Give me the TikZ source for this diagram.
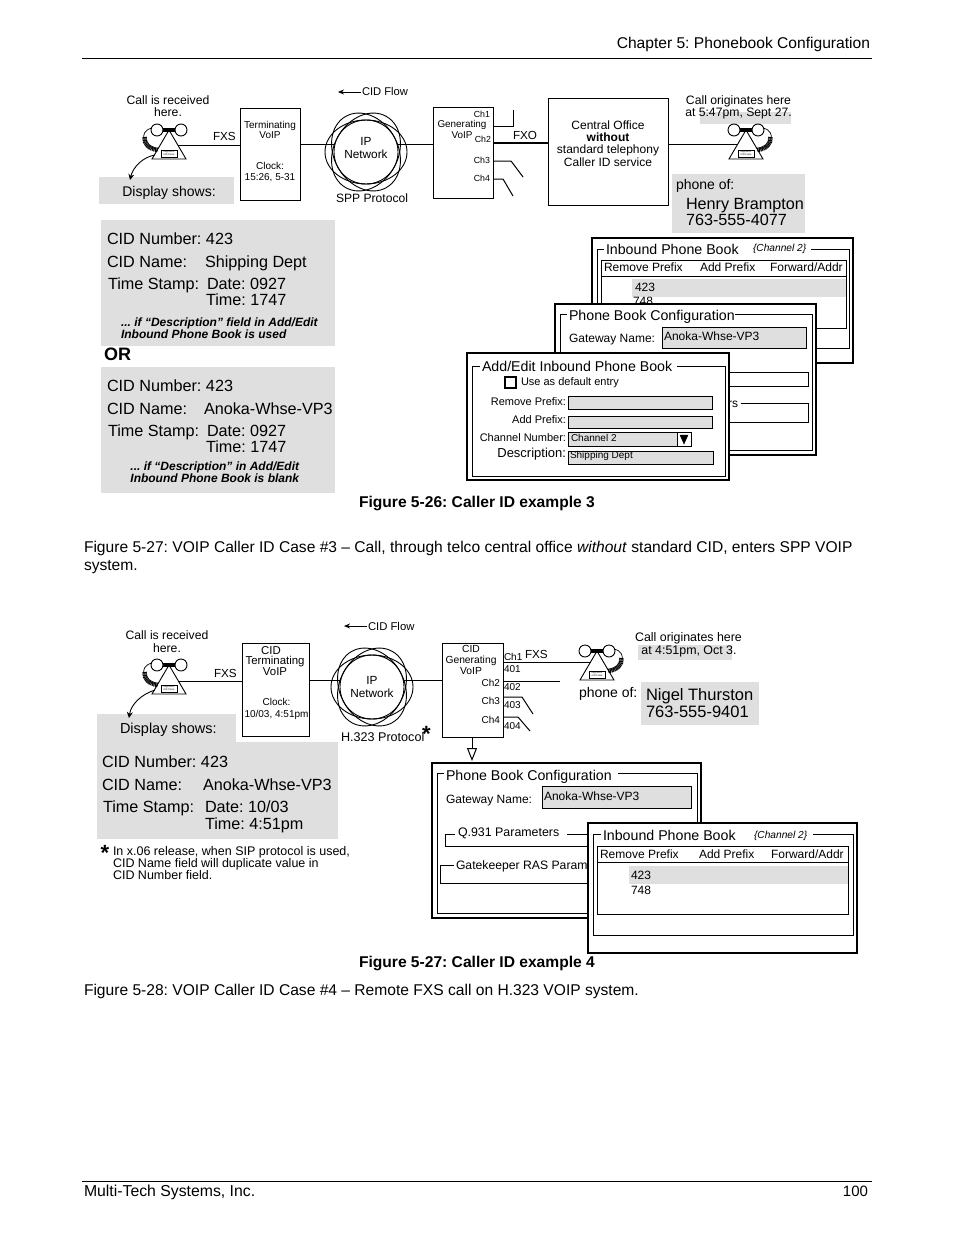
\documentclass[tikz,border=0pt]{standalone}
\usepackage{fontspec}
\setmainfont{Liberation Sans}
\usetikzlibrary{arrows.meta}
\definecolor{panel}{HTML}{DFDFDF}
\frenchspacing
\tikzset{
  txt/.style={inner sep=0pt,outer sep=0pt},
  boxn/.style={draw=black,line width=1pt,inner sep=0pt,fill=white},
  win/.style={boxn,line width=2pt},
  grey/.style={fill=panel,inner sep=0pt},
  field/.style={draw=black,line width=.8pt,fill=panel,inner sep=0pt},
  link/.style={line width=1pt,line join=miter},
  frameline/.style={line width=.8pt},
  flow/.style={line width=.9pt,-{Stealth[length=6pt,width=5pt]}},
  cloudn/.style={circle,draw=black,line width=.9pt,minimum size=64pt,inner sep=0pt},
}
\newcommand\TL[6][]{\node[txt,anchor=base west,font=\fontsize{#5}{#5}\selectfont,#1] (#2) at (#3,#4) {#6};}
\newcommand\TC[6][]{\node[txt,anchor=base,font=\fontsize{#5}{#5}\selectfont,#1] (#2) at (#3,#4) {#6};}
\newcommand\TR[6][]{\node[txt,anchor=base east,font=\fontsize{#5}{#5}\selectfont,#1] (#2) at (#3,#4) {#6};}
\newcommand\ML[7][]{\node[txt,align=center,font=\fontsize{#5}{#6}\selectfont,#1] (#2) at (#3,#4) {#7};}
\newcommand\Rect[6]{\node[#1,minimum width={(#5-#3)*1pt},minimum height={(#6-#4)*1pt}] (#2) at ({(#3+#5)/2},{(#4+#6)/2}) {};}
\newcommand\phone[5]{%
  \coordinate (#1) at (#2,#3);
  \begin{scope}[shift={(#2,#3)},xscale=#4]
    \draw[line width=.9pt,fill=white] (0,0) -- (-17,29) -- (17,29) -- cycle;
    \draw[line width=.9pt,fill=white] (-12,0) circle[radius=6];
    \draw[line width=.9pt,fill=white] (12,0) circle[radius=6];
    \draw[line width=3.5pt] (-6,0) -- (6,0);
    \draw[line width=.7pt] (-17,-2) .. controls (-25,0) and (-26,5) .. (-25,9);
    \draw[line width=4.5pt,dash pattern=on 1pt off .5pt] (-24.5,7) .. controls (-25,14) and (-20,19) .. (-11,20);
    \node[draw=black,line width=.5pt,fill=white,inner sep=0pt,minimum width=16pt,minimum height=7.5pt,align=center,font=\fontsize{2.4}{2.8}\selectfont] (#1key) at (0,23.5) {Keypad or\\CID Pulse};
    \coordinate (#1port) at ({17*#5/29},#5);
    \coordinate (#1cord) at (-14,25);
  \end{scope}}
\newcommand\cloud[3]{%
  \node[cloudn] (#1) at (#2,#3) {};
  \foreach \a in {0,60,120}
    \draw[line width=.9pt] (#1.center) circle[x radius=41,y radius=32,rotate=\a];}
\begin{document}
\begin{tikzpicture}[x=1pt,y=-1pt]
\useasboundingbox[fill=white] (0,0) rectangle (954,1235);

% page furniture
\TR{header}{870}{48}{15.6}{Chapter 5: Phonebook Configuration}
\coordinate (hrA) at (82,58); \coordinate (hrB) at (872,58);
\draw[line width=.8pt] (hrA) -- (hrB);
\coordinate (frA) at (82,1181); \coordinate (frB) at (872,1181);
\draw[line width=.8pt] (frA) -- (frB);
\TL{footl}{84}{1196}{15.8}{Multi-Tech Systems, Inc.}
\TR{footr}{868}{1196}{15}{100}

%%%%% Figure 5-26
\Rect{grey}{disp1}{99}{177}{234}{204}
\TC{disp1t}{169}{196}{14}{Display shows:}
\ML{recv1}{168}{106}{12.2}{12.5}{Call is received\\here.}
\phone{ph1}{169}{130}{1}{15}
\coordinate (disp1tip) at (130,180);
\draw[line width=.9pt,-{Stealth[length=6pt,width=6pt]}] (ph1cord) .. controls (143,157) and (133,167) .. (disp1tip);
\TL{fxs1}{213}{140}{11.7}{FXS}
\Rect{boxn}{term1}{240}{108}{300}{200}
\ML{term1a}{270}{130}{10}{10.5}{Terminating\\VoIP}
\ML{term1b}{270}{172}{10}{11.5}{Clock:\\15:26, 5-31}
\cloud{ip1}{366}{152}
\ML{ip1t}{366}{148}{11.8}{13}{IP\\Network}
\TL{flow1t}{362}{95}{11.2}{CID Flow}
\coordinate (flow1a) at (361,92); \coordinate (flow1b) at (338,92);
\draw[flow] (flow1a) -- (flow1b);
\TC{spp}{372}{202}{12.1}{SPP Protocol}
\coordinate (ya) at (0,144);
\draw[link] (ph1port) -- (ph1port -| term1.west);
\draw[link] (term1.east |- ya) -- (ip1.west |- ya);
\Rect{boxn}{gen1}{433}{107}{493}{198}
\draw[link] (ip1.east |- ya) -- (gen1.west |- ya);
\ML{gen1t}{462}{129}{9.9}{11}{Generating\\VoIP}
\TR{ch11}{490}{117}{8.8}{Ch1}
\TR{ch12}{491}{142}{8.8}{Ch2}
\TR{ch13}{490}{163}{8.8}{Ch3}
\TR{ch14}{490}{181}{8.8}{Ch4}
\coordinate (c1a) at (493,126); \coordinate (c1b) at (513,110);
\draw[link] (c1a) -| (c1b);
\coordinate (c3a) at (493,161); \coordinate (c3b) at (511,161); \coordinate (c3c) at (523,177);
\draw[link] (c3a) -- (c3b) -- (c3c);
\coordinate (c4a) at (493,179); \coordinate (c4b) at (503,179); \coordinate (c4c) at (513,196);
\draw[link] (c4a) -- (c4b) -- (c4c);
\TL{fxo}{513}{139}{11.7}{FXO}
\Rect{boxn}{co}{548}{98}{668}{205}
\ML{cot}{608}{143.5}{12}{12.3}{Central Office\\\textbf{without}\\standard telephony\\Caller ID service}
\coordinate (yb) at (0,143);
\draw[link,line width=1.2pt] (gen1.east |- yb) -- (co.west |- yb);
\Rect{grey}{time1}{700}{112}{791}{124}
\ML{orig1}{738.5}{107}{12.2}{12.3}{Call originates here\\at 5:47pm, Sept 27.}
\phone{ph2}{746}{130}{-1}{14}
\draw[link] (co.east |- ph2port) -- (ph2port);
\Rect{grey}{who1}{672}{174}{805}{233}
\TL{phof1}{676}{189}{14}{phone of:}
\ML[align=left,anchor=west]{who1t}{686}{212}{16.2}{17}{Henry Brampton\\763-555-4077}

% CID panels
\Rect{grey}{pan1}{101}{220}{335}{346}
\TL{p1a}{107}{244.5}{16.2}{CID Number: 423}
\TL{p1b}{107}{267}{16.2}{CID Name:}
\TL{p1c}{205}{267}{16.2}{Shipping Dept}
\TL{p1d}{108}{289}{16.2}{Time Stamp:}
\TL{p1e}{207}{289}{16.2}{Date: 0927}
\TL{p1f}{206}{305}{16.2}{Time: 1747}
\ML[align=left,anchor=west]{p1g}{121}{328.5}{12}{12}{\textbf{\textit{... if “Description” field in Add/Edit}}\\\textbf{\textit{Inbound Phone Book is used}}}
\TL{ort}{104}{360}{18}{\textbf{OR}}
\Rect{grey}{pan2}{101}{367}{335}{493}
\TL{p2a}{107}{391.5}{16.2}{CID Number: 423}
\TL{p2b}{107}{414}{16.2}{CID Name:}
\TL{p2c}{204}{414}{16.2}{Anoka-Whse-VP3}
\TL{p2d}{108}{436}{16.2}{Time Stamp:}
\TL{p2e}{207}{436}{16.2}{Date: 0927}
\TL{p2f}{206}{452}{16.2}{Time: 1747}
\ML{p2g}{215}{472.5}{12}{12}{\textbf{\textit{... if “Description” in Add/Edit}}\\\textbf{\textit{Inbound Phone Book is blank}}}

% Inbound window
\Rect{win}{ib1}{592}{238}{853}{363}
\draw[frameline] (604,249) -| (597,348) -| (849,249) -- (811,249);
\TL{ib1t}{606}{254}{14.2}{Inbound Phone Book}
\TL{ib1c}{753}{251}{10.2}{\textit{\{Channel 2\}}}
\Rect{boxn}{ib1tab}{601}{260}{846}{328}
\draw[link] (601,276) -- (846,276);
\Rect{grey}{ib1row}{632}{279}{846}{297}
\TL{ib1h1}{604}{271}{12}{Remove Prefix}
\TL{ib1h2}{700}{271}{12}{Add Prefix}
\TL{ib1h3}{770}{271}{12}{Forward/Addr}
\TL{ib1r1}{635}{291}{12}{423}
\TL{ib1r2}{633}{305}{12}{748}

% Configuration window
\Rect{win}{cfg1}{555}{304}{816}{455}
\draw[frameline] (567,314) -| (560,450) -| (812,314) -- (735,314);
\TL{cfg1t}{569}{320}{14.2}{Phone Book Configuration}
\TL{cfg1g}{569}{342}{12}{Gateway Name:}
\Rect{field}{cfg1f}{662}{327}{806}{348}
\TL{cfg1v}{664}{340}{12}{Anoka-Whse-VP3}
\draw[frameline] (700,372) -| (808,386) -- (700,386);
\draw[frameline] (741,403) -| (808,422) -- (700,422);
\TL{cfg1r}{728}{407}{12}{rs}

% Add/Edit window
\Rect{win}{ed}{467}{353}{729}{480}
\draw[frameline] (480,366) -| (472,476) -| (725,366) -- (677,366);
\TL{edt}{482}{371}{14.2}{Add/Edit Inbound Phone Book}
\Rect{boxn,line width=1.6pt}{edck}{505}{377}{516}{388}
\TL{edu}{521}{385}{11}{Use as default entry}
\TR{edl1}{566}{405}{11}{Remove Prefix:}
\TR{edl2}{566}{423}{11}{Add Prefix:}
\TR{edl3}{566}{441}{11}{Channel Number:}
\TR{edl4}{566}{457}{13}{Description:}
\Rect{field}{edf1}{568}{396}{712}{409}
\Rect{field}{edf2}{568}{416}{712}{428}
\Rect{field}{edf3}{568}{432}{677}{446}
\Rect{boxn,line width=.8pt}{edf3b}{677}{432}{691}{446}
\draw[fill=black] (680,435) -- (688,435) -- (684,444) -- cycle;
\Rect{field}{edf4}{568}{451}{713}{464}
\TL{edv3}{571}{441}{10}{Channel 2}
\TL{edv4}{570}{458}{10}{Shipping Dept}

\TL{cap1}{359}{507}{15.6}{\textbf{Figure 5-26: Caller ID example 3}}
\TL{body1}{84}{552}{15.6}{Figure 5-27: VOIP Caller ID Case \#3 – Call, through telco central office \textit{without} standard CID, enters SPP VOIP}
\TL{body1b}{84}{570}{15.6}{system.}

%%%%% Figure 5-27
\Rect{grey}{disp2}{97}{714}{236}{745}
\Rect{grey}{pan3}{97}{742}{338}{839}
\TL{disp2t}{120}{733}{14.5}{Display shows:}
\ML{recv2}{167}{642}{12.2}{13}{Call is received\\here.}
\phone{ph3}{169}{665}{1}{16}
\coordinate (disp2tip) at (129,718);
\draw[line width=.9pt,-{Stealth[length=6pt,width=6pt]}] (ph3cord) .. controls (142,694) and (131,704) .. (disp2tip);
\TL{fxs2}{214}{677}{11.7}{FXS}
\Rect{boxn}{term2}{242}{643}{309}{736}
\ML{term2a}{275}{661}{11.4}{10.7}{\hspace*{-8pt}CID\\Terminating\\VoIP}
\ML{term2b}{276.5}{709}{10}{12}{Clock:\\10/03, 4:51pm}
\draw[link] (ph3port) -- (ph3port -| term2.west);
\cloud{ip2}{372}{687}
\ML{ip2t}{372}{687}{11.8}{13}{IP\\Network}
\coordinate (yc) at (0,680);
\draw[link] (term2.east |- yc) -- (ip2.west |- yc);
\TL{flow2t}{368}{630}{11.3}{CID Flow}
\coordinate (flow2a) at (367,626); \coordinate (flow2b) at (344,626);
\draw[flow] (flow2a) -- (flow2b);
\TL{h323}{341}{741}{12.6}{H.323 Protocol}
\TC{star1}{426.5}{741.5}{22}{\textbf{*}}
\Rect{boxn}{gen2}{442}{643}{503}{737}
\draw[link] (ip2.east |- yc) -- (gen2.west |- yc);
\ML{gen2t}{471}{660}{10.3}{10.7}{CID\\Generating\\VoIP}
\TL{ch21}{504}{660}{10}{Ch1}
\TL{ch21n}{504}{672}{10}{401}
\TR{ch22}{500}{686}{10}{Ch2}
\TL{ch22n}{504}{690}{10}{402}
\TR{ch23}{500}{704}{10}{Ch3}
\TL{ch23n}{504}{708}{10}{403}
\TR{ch24}{500}{723}{10}{Ch4}
\TL{ch24n}{504}{729}{10}{404}
\phone{ph4}{597}{651}{-1}{11}
\draw[link] (gen2.east |- ph4port) -- (ph4port);
\coordinate (c22) at (560,681);
\draw[link] (gen2.east |- c22) -- (c22);
\coordinate (c23a) at (503,697); \coordinate (c23b) at (522,697); \coordinate (c23c) at (533,714);
\draw[link] (c23a) -- (c23b) -- (c23c);
\coordinate (c24a) at (503,717); \coordinate (c24b) at (518,717); \coordinate (c24c) at (530,731);
\draw[link] (c24a) -- (c24b) -- (c24c);
\TL{fxs3}{525}{658}{11.7}{FXS}
\Rect{grey}{time2}{638}{645}{732}{660}
\ML{orig2}{688.5}{644.5}{12.4}{13}{Call originates here\\\hspace*{1pt}at 4:51pm, Oct 3.}
\TL{phof2}{579}{697}{14}{phone of:}
\Rect{grey}{who2}{641}{682}{759}{725}
\ML[align=left,anchor=west]{who2t}{646}{703}{16.5}{17}{Nigel Thurston\\763-555-9401}

\TL{p3a}{102}{767}{16.2}{CID Number: 423}
\TL{p3b}{102}{790}{16.2}{CID Name:}
\TL{p3c}{203}{790}{16.2}{Anoka-Whse-VP3}
\TL{p3d}{103}{812}{16.2}{Time Stamp:}
\TL{p3e}{205}{812}{16.2}{Date: 10/03}
\TL{p3f}{205}{829}{16.2}{Time: 4:51pm}
\TL{star2}{100.5}{860}{22}{\textbf{*}}
\ML[align=left,anchor=west]{note}{113}{863}{12.5}{12.4}{In x.06 release, when SIP protocol is used,\\CID Name field will duplicate value in\\CID Number field.}

% Configuration window 2
\Rect{boxn,line width=1.4pt}{cfg2}{432}{763}{701}{918}
\draw[frameline] (444,773) -| (437,913) -| (697,773) -- (618,773);
\TL{cfg2t}{446}{780}{14.2}{Phone Book Configuration}
\TL{cfg2g}{446}{803}{12}{Gateway Name:}
\Rect{field}{cfg2f}{542}{786}{691}{808}
\TL{cfg2v}{544}{800}{12}{Anoka-Whse-VP3}
\draw[frameline] (455,834) -| (445,846) -- (600,846);
\draw[frameline] (567,834) -- (600,834);
\TL{q931}{458}{836}{12.4}{Q.931 Parameters}
\draw[frameline] (454,865) -| (440,883) -- (600,883);
\TL{gk}{456}{869}{12.2}{Gatekeeper RAS Param}
\coordinate (dnA) at (472,737); \coordinate (dnB) at (472,761);
\draw[line width=1pt,-{Triangle[open,length=13pt,width=10pt]}] (dnA) -- (dnB);

% Inbound window 2
\Rect{win}{ib2}{588}{823}{857}{953}
\draw[frameline] (601,834) -| (593,935) -| (853,834) -- (813,834);
\TL{ib2t}{603}{840}{14.2}{Inbound Phone Book}
\TL{ib2c}{754}{838}{10.2}{\textit{\{Channel 2\}}}
\Rect{boxn}{ib2tab}{597}{846}{848}{914}
\draw[link] (597,862) -- (848,862);
\Rect{grey}{ib2row}{629}{866}{848}{884}
\TL{ib2h1}{600}{858}{12}{Remove Prefix}
\TL{ib2h2}{699}{858}{12}{Add Prefix}
\TL{ib2h3}{771}{858}{12}{Forward/Addr}
\TL{ib2r1}{631}{879}{12}{423}
\TL{ib2r2}{631}{894}{12}{748}

\TL{cap2}{359}{967}{15.6}{\textbf{Figure 5-27: Caller ID example 4}}
\TL{body2}{84}{995}{15.6}{Figure 5-28: VOIP Caller ID Case \#4 – Remote FXS call on H.323 VOIP system.}
\end{tikzpicture}
\end{document}
